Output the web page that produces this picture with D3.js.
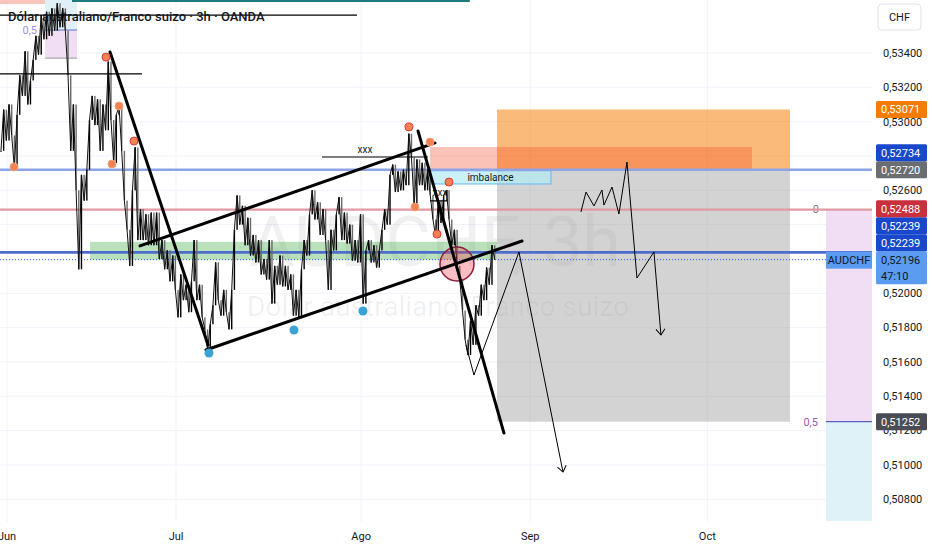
<!DOCTYPE html>
<html>
<head>
<meta charset="utf-8">
<script src="https://cdn.jsdelivr.net/npm/d3@7"></script>
<style>
  html, body { margin: 0; padding: 0; background: #fff; overflow: hidden; }
  text { font-family: Roboto, "Noto Sans", sans-serif; }
</style>
</head>
<body>
<script>
// Data: closes of the price series (one every 1/3 trading day, starting day -0.75)
var closes = [
  0.5283, 0.5307, 0.5289, 0.5310, 0.5292, 0.5273, 0.5304, 0.5327, 0.5315, 0.5341,
  0.5310, 0.5324, 0.5336, 0.5350, 0.5339, 0.5362, 0.5348, 0.5364, 0.5350, 0.5366,
  0.5353, 0.5369, 0.5355, 0.5366, 0.5353, 0.5327, 0.5283, 0.5310, 0.5260, 0.5214,
  0.5269, 0.5254, 0.5272, 0.5301, 0.5315, 0.5298, 0.5313, 0.5283, 0.5310, 0.5295,
  0.5335, 0.5301, 0.5276, 0.5304, 0.5309, 0.5283, 0.5254, 0.5237, 0.5216, 0.5260,
  0.5285, 0.5231, 0.5249, 0.5231, 0.5246, 0.5228, 0.5247, 0.5228, 0.5247, 0.5220,
  0.5231, 0.5214, 0.5225, 0.5207, 0.5222, 0.5202, 0.5186, 0.5211, 0.5196, 0.5205,
  0.5189, 0.5207, 0.5231, 0.5196, 0.5205, 0.5186, 0.5179, 0.5167, 0.5182, 0.5193,
  0.5218, 0.5196, 0.5187, 0.5202, 0.5189, 0.5179, 0.5202, 0.5237, 0.5257, 0.5240,
  0.5251, 0.5228, 0.5244, 0.5222, 0.5234, 0.5218, 0.5231, 0.5211, 0.5220, 0.5208,
  0.5231, 0.5194, 0.5216, 0.5205, 0.5222, 0.5204, 0.5216, 0.5202, 0.5211, 0.5187,
  0.5202, 0.5186, 0.5214, 0.5231, 0.5222, 0.5246, 0.5260, 0.5243, 0.5253, 0.5234,
  0.5249, 0.5231, 0.5202, 0.5237, 0.5225, 0.5246, 0.5256, 0.5231, 0.5247, 0.5229,
  0.5240, 0.5219, 0.5231, 0.5218, 0.5246, 0.5194, 0.5225, 0.5231, 0.5218, 0.5228,
  0.5215, 0.5225, 0.5237, 0.5249, 0.5240, 0.5269, 0.5275, 0.5259, 0.5271, 0.5260,
  0.5272, 0.5263, 0.5293, 0.5279, 0.5251, 0.5278, 0.5263, 0.5276, 0.5260, 0.5272,
  0.5257, 0.5243, 0.5233, 0.5254, 0.5241, 0.5257, 0.5260, 0.5243, 0.5228, 0.5237,
  0.5216, 0.5208, 0.5190, 0.5173, 0.5164, 0.5184, 0.5170, 0.5193, 0.5187, 0.5205,
  0.5196, 0.5215, 0.5205, 0.5228, 0.52196
];
var candleStart = -0.75;
var candleStep = 1 / 3;

// Axis ticks (x in trading days from 2 Jun)
var monthLabels = ["Jun", "Jul", "Ago", "Sep", "Oct"];
var monthDays = [0, 21, 44, 65, 87];
var priceTicks = [0.508, 0.510, 0.512, 0.514, 0.516, 0.518, 0.520, 0.522,
                  0.524, 0.526, 0.528, 0.530, 0.532, 0.534];

// Horizontal levels
var levelBlueLight = 0.52720;
var levelRed = 0.52488;
var levelBlue = 0.52239;
var lastPrice = 0.52196;

// Price tags on the right scale
var tagPrices = [0.51252, 0.52196, 0.52239, 0.52239, 0.52488, 0.52720, 0.52734, 0.53071];
var countdown = "47:10";

// Zones [t0, t1, p0, p1]
var greenZone = [10.31, 60.87, 0.52300, 0.52196];
var pinkZone = [52.55, 92.55, 0.52852, 0.52720];
var targetZone = [60.87, 97.27, 0.53071, 0.52720];
var stopZone = [60.87, 97.27, 0.52720, 0.51252];
var imbalanceZone = [52.55, 67.58, 0.52714, 0.52637];
var fibRightTop = [101.74, 107.46, 0.52488, 0.51252];
var fibRightBottom = [101.74, 107.46, 0.51252, 0.50673];
var fibLeftTop = [4.72, 8.70, 0.53709, 0.53534];
var fibLeftBottom = [4.72, 8.70, 0.53534, 0.53370];
var topPinkZone = [-0.87, 4.72, 0.53709, 0.53685];

// Drawings [t, price]
var trendLines = [
  [[12.80, 0.53406], [24.97, 0.51699]],
  [[24.72, 0.51670], [63.98, 0.52305]],
  [[16.52, 0.52276], [53.17, 0.52876]],
  [[51.06, 0.52946], [61.74, 0.51186]]
];
var thinLines = [
  [[-0.87, 0.53621], [43.48, 0.53621]],
  [[-0.87, 0.53278], [16.77, 0.53278]],
  [[39.13, 0.52794], [52.30, 0.52794]],
  [[52.55, 0.52538], [54.66, 0.52538], [54.66, 0.52602]]
];
var tealLine = [[8.07, 0.53703], [57.50, 0.53703]];
var pathA = [[57.02, 0.51699], [58.01, 0.51524], [63.60, 0.52241], [69.07, 0.50959]];
var pathB = [[71.30, 0.52474], [71.93, 0.52590], [72.92, 0.52509], [73.91, 0.52602],
             [74.16, 0.52514], [75.16, 0.52619], [76.02, 0.52462], [77.02, 0.52765],
             [78.26, 0.52089], [80.37, 0.52241], [81.24, 0.51757]];
var orangeDots = [[0.87, 0.52736], [12.30, 0.53376], [13.91, 0.53091], [15.78, 0.52887],
                  [13.04, 0.52753], [49.94, 0.52969], [52.55, 0.52881], [54.91, 0.52648],
                  [50.68, 0.52503], [53.42, 0.52345]];
var blueDots = [[25.09, 0.51652], [35.65, 0.51786], [44.22, 0.51897]];
var circleCenter = [55.90, 0.52171];
var xxxLabels = [[44.47, 0.52835], [53.79, 0.52590]];

// Dimensions
var width = 932;
var height = 550;
var plotRight = 872;
var plotBottom = 522;

var x = d3.scaleLinear().domain([-0.87, 107.46]).range([0, plotRight]);
var y = d3.scaleLinear().domain([0.508, 0.534]).range([499.3, 53]);
var fmt = function (v) { return d3.format(".5f")(v).replace(".", ","); };

var svg = d3.select("body").append("svg")
  .attr("width", width)
  .attr("height", height);

var defs = svg.append("defs");
defs.append("clipPath").attr("id", "plot")
  .append("rect").attr("width", plotRight).attr("height", plotBottom);
defs.append("marker")
  .attr("id", "arrow")
  .attr("viewBox", "-7 -6 8 12")
  .attr("markerWidth", 8).attr("markerHeight", 12)
  .attr("markerUnits", "userSpaceOnUse")
  .attr("orient", "auto")
  .append("path")
  .attr("d", "M-6,-4.5L0,0L-6,4.5")
  .attr("fill", "none").attr("stroke", "#000").attr("stroke-width", 1);

var plot = svg.append("g").attr("clip-path", "url(#plot)");

// Grid
plot.selectAll(".hgrid").data(priceTicks).enter().append("line")
  .attr("x1", 0).attr("x2", plotRight)
  .attr("y1", function (d) { return y(d); }).attr("y2", function (d) { return y(d); })
  .attr("stroke", "#f0f3fa").attr("stroke-width", 1);
plot.selectAll(".vgrid").data(monthDays).enter().append("line")
  .attr("y1", 0).attr("y2", plotBottom)
  .attr("x1", function (d) { return x(d); }).attr("x2", function (d) { return x(d); })
  .attr("stroke", "#f0f3fa").attr("stroke-width", 1);

// Watermark
plot.append("text").attr("x", 435).attr("y", 266)
  .attr("text-anchor", "middle").attr("font-size", 70)
  .attr("fill", "#000").attr("fill-opacity", 0.06)
  .text("AUDCHF, 3h");
plot.append("text").attr("x", 438).attr("y", 316)
  .attr("text-anchor", "middle").attr("font-size", 28)
  .attr("fill", "#000").attr("fill-opacity", 0.06)
  .text("Dólar australiano/Franco suizo");

function zone(z, fill, opacity) {
  return plot.append("rect")
    .attr("x", x(z[0])).attr("width", x(z[1]) - x(z[0]))
    .attr("y", y(Math.max(z[2], z[3])))
    .attr("height", Math.abs(y(z[2]) - y(z[3])))
    .attr("fill", fill).attr("fill-opacity", opacity);
}

// Zones
zone(topPinkZone, "#f8c4bc", 1);
zone(fibLeftTop, "#dff1f6", 1);
zone(fibLeftBottom, "#f1def5", 1);
zone(fibRightTop, "#f1def5", 1);
zone(fibRightBottom, "#def2f7", 1);
zone(targetZone, "#f57c00", 0.52);
zone(stopZone, "#9e9e9e", 0.45);
zone(pinkZone, "#f4431e", 0.32);
zone(greenZone, "#4caf50", 0.38);
zone(imbalanceZone, "#b2ebf2", 0.7)
  .attr("stroke", "#64b5f6").attr("stroke-width", 1);

var line = d3.line()
  .x(function (d) { return x(d[0]); })
  .y(function (d) { return y(d[1]); });

// Fib tool lines
plot.append("line")
  .attr("x1", x(fibRightTop[0])).attr("x2", x(fibRightTop[1]))
  .attr("y1", y(levelRed)).attr("y2", y(levelRed))
  .attr("stroke", "#787b86").attr("stroke-width", 1);
plot.append("line")
  .attr("x1", x(fibRightTop[0])).attr("x2", x(fibRightTop[1]))
  .attr("y1", y(fibRightTop[3])).attr("y2", y(fibRightTop[3]))
  .attr("stroke", "#5c5fc2").attr("stroke-width", 1.2);
plot.append("line")
  .attr("x1", x(fibLeftTop[0])).attr("x2", x(fibLeftTop[1]))
  .attr("y1", y(fibLeftTop[3])).attr("y2", y(fibLeftTop[3]))
  .attr("stroke", "#5c6fd0").attr("stroke-width", 1.2);
plot.append("line")
  .attr("x1", x(fibLeftBottom[0])).attr("x2", x(fibLeftBottom[1]))
  .attr("y1", y(fibLeftBottom[3])).attr("y2", y(fibLeftBottom[3]))
  .attr("stroke", "#999").attr("stroke-width", 1);
plot.append("text").attr("x", x(fibRightTop[0]) - 7).attr("y", y(levelRed))
  .attr("dy", "0.35em").attr("text-anchor", "end").attr("font-size", 11)
  .attr("fill", "#787b86").text("0");
plot.append("text").attr("x", x(fibRightTop[0]) - 8).attr("y", y(fibRightTop[3]))
  .attr("dy", "0.35em").attr("text-anchor", "end").attr("font-size", 11)
  .attr("fill", "#a05aa8").text("0,5");
plot.append("text").attr("x", x(fibLeftTop[0]) - 8).attr("y", y(fibLeftTop[3]))
  .attr("dy", "0.35em").attr("text-anchor", "end").attr("font-size", 11)
  .attr("fill", "#9c8fd8").text("0,5");

// Horizontal levels
plot.append("line").attr("x1", 0).attr("x2", plotRight)
  .attr("y1", y(levelBlueLight)).attr("y2", y(levelBlueLight))
  .attr("stroke", "#8ea4e6").attr("stroke-width", 2.5);
plot.append("line").attr("x1", 0).attr("x2", plotRight)
  .attr("y1", y(levelRed)).attr("y2", y(levelRed))
  .attr("stroke", "#e09aa2").attr("stroke-width", 2.2);
plot.append("line").attr("x1", 0).attr("x2", plotRight)
  .attr("y1", y(levelBlue)).attr("y2", y(levelBlue))
  .attr("stroke", "#4d6ccc").attr("stroke-width", 2.8);
plot.append("line").attr("x1", 0).attr("x2", plotRight)
  .attr("y1", y(lastPrice)).attr("y2", y(lastPrice))
  .attr("stroke", "#2962ff").attr("stroke-width", 1)
  .attr("stroke-dasharray", "1,2");

// Candles: thin bodies plus a jagged close line
var candles = closes.map(function (c, i) {
  return { t: candleStart + i * candleStep, open: i ? closes[i - 1] : c, close: c };
});
plot.selectAll(".candle").data(candles).enter().append("rect")
  .attr("x", function (d) { return x(d.t) - 0.7; })
  .attr("width", 1.4)
  .attr("y", function (d) { return y(Math.max(d.open, d.close)); })
  .attr("height", function (d) { return Math.max(1, Math.abs(y(d.open) - y(d.close))); })
  .attr("fill", function (d) { return d.close >= d.open ? "#000" : "#6a6a6a"; });
plot.append("path")
  .attr("d", d3.line()
    .x(function (d) { return x(d.t); })
    .y(function (d) { return y(d.close); })(candles))
  .attr("fill", "none").attr("stroke", "#111").attr("stroke-width", 1);

// Circle
plot.append("circle")
  .attr("cx", x(circleCenter[0])).attr("cy", y(circleCenter[1])).attr("r", 17)
  .attr("fill", "#f23645").attr("fill-opacity", 0.32)
  .attr("stroke", "#8b1e3f").attr("stroke-width", 1.5);

// Lines
plot.selectAll(".thin").data(thinLines).enter().append("path")
  .attr("d", line).attr("fill", "none").attr("stroke", "#000").attr("stroke-width", 1.2);
plot.append("path").attr("d", line(tealLine))
  .attr("fill", "none").attr("stroke", "#1e7b7b").attr("stroke-width", 2);
plot.selectAll(".trend").data(trendLines).enter().append("path")
  .attr("d", line).attr("fill", "none").attr("stroke", "#000")
  .attr("stroke-width", 3).attr("stroke-linecap", "round");
[pathA, pathB].forEach(function (p) {
  plot.append("path").attr("d", line(p))
    .attr("fill", "none").attr("stroke", "#000").attr("stroke-width", 1)
    .attr("marker-end", "url(#arrow)");
});

// Swing dots
plot.selectAll(".odot").data(orangeDots).enter().append("circle")
  .attr("cx", function (d) { return x(d[0]); })
  .attr("cy", function (d) { return y(d[1]); })
  .attr("r", 4)
  .attr("fill", "#ef8354").attr("stroke", function (d, i) { return i % 2 ? "#e53935" : "#f2a07a"; })
  .attr("stroke-width", 1);
plot.selectAll(".bdot").data(blueDots).enter().append("circle")
  .attr("cx", function (d) { return x(d[0]); })
  .attr("cy", function (d) { return y(d[1]); })
  .attr("r", 4.5).attr("fill", "#3aa3d6");

// Text labels
plot.selectAll(".xxx").data(xxxLabels).enter().append("text")
  .attr("x", function (d) { return x(d[0]); })
  .attr("y", function (d) { return y(d[1]); })
  .attr("dy", "0.35em").attr("text-anchor", "middle")
  .attr("font-size", 10).attr("fill", "#131722").text("xxx");
plot.append("text")
  .attr("x", x((imbalanceZone[0] + imbalanceZone[1]) / 2))
  .attr("y", y((imbalanceZone[2] + imbalanceZone[3]) / 2))
  .attr("dy", "0.35em").attr("text-anchor", "middle")
  .attr("font-size", 10).attr("fill", "#131722").text("imbalance");

// AUDCHF line label
var symY = y(lastPrice);
plot.append("rect").attr("x", x(fibRightTop[0])).attr("y", symY - 8)
  .attr("width", x(fibRightTop[1]) - x(fibRightTop[0])).attr("height", 17)
  .attr("fill", "#5b9cf2");
plot.append("text").attr("x", (x(fibRightTop[0]) + x(fibRightTop[1])) / 2).attr("y", symY + 0.5)
  .attr("dy", "0.35em").attr("text-anchor", "middle").attr("font-size", 11)
  .attr("fill", "#131722").text("AUDCHF");

// Title
svg.append("text").attr("x", 8).attr("y", 21)
  .attr("font-size", 13).attr("font-weight", 500).attr("fill", "#131722")
  .text("Dólar australiano/Franco suizo · 3h · OANDA");

// Price tags, stacked from the bottom up so they never overlap
var tagFills = ["#4a4d55", "#5b9cf2", "#1848cc", "#1848cc", "#c9303e", "#6a6d72", "#1848cc", "#f57c00"];
var tagBoxes = [];
var prevTop = Infinity;
tagPrices.forEach(function (p, i) {
  var h = i === 1 ? 33 : 17;
  var top = y(p) - 8.5;
  if (top + h > prevTop) top = prevTop - h;
  prevTop = top;
  tagBoxes.push([top, top + h]);
});

// Right price scale (tick labels hidden where a tag covers their centre)
var axisG = svg.append("g");
axisG.selectAll(".tick")
  .data(priceTicks.filter(function (d) {
    var ty = y(d);
    return !tagBoxes.some(function (b) { return ty > b[0] && ty < b[1]; });
  }))
  .enter().append("text")
  .attr("x", 883).attr("y", function (d) { return y(d); })
  .attr("dy", "0.35em").attr("font-size", 11).attr("fill", "#131722")
  .text(fmt);

// CHF box
axisG.append("rect").attr("x", 878).attr("y", 4).attr("width", 43).attr("height", 26)
  .attr("rx", 4).attr("fill", "#fff").attr("stroke", "#e0e3eb");
axisG.append("text").attr("x", 899.5).attr("y", 17).attr("dy", "0.35em")
  .attr("text-anchor", "middle").attr("font-size", 11).attr("fill", "#131722").text("CHF");

tagPrices.forEach(function (p, i) {
  var top = tagBoxes[i][0];
  var h = tagBoxes[i][1] - top;
  axisG.append("rect").attr("x", 876).attr("y", top).attr("width", 51).attr("height", h)
    .attr("rx", 1.5).attr("fill", tagFills[i]);
  var dark = i === 1;
  axisG.append("text").attr("x", 881).attr("y", top + 8.5).attr("dy", "0.35em")
    .attr("font-size", 11).attr("fill", dark ? "#131722" : "#fff").text(fmt(p));
  if (dark) {
    axisG.append("text").attr("x", 881).attr("y", top + 24.5).attr("dy", "0.35em")
      .attr("font-size", 11).attr("fill", "#131722").text(countdown);
  }
});

// Time axis labels
svg.selectAll(".month").data(monthLabels).enter().append("text")
  .attr("x", function (d, i) { return x(monthDays[i]); })
  .attr("y", 536).attr("dy", "0.35em").attr("text-anchor", "middle")
  .attr("font-size", 11).attr("fill", "#131722")
  .text(function (d) { return d; });
</script>
</body>
</html>
